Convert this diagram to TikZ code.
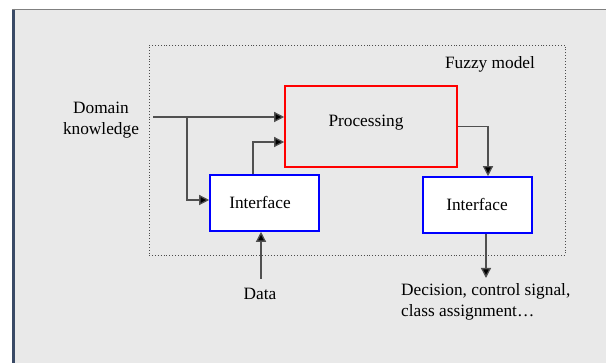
\documentclass[tikz,border=0pt]{standalone}
\usepackage{fontspec}
\setmainfont{Liberation Serif}
\usetikzlibrary{arrows.meta}

\definecolor{panel}{HTML}{E9E9E9}
\definecolor{edgeblue}{HTML}{3A4A66}
\definecolor{flowgray}{HTML}{505050}

\tikzset{
  txt/.style={font=\fontsize{17.3}{21}\selectfont, inner sep=0pt},
  modelbox/.style={draw=black!70, dotted, line width=0.9pt, minimum width=416, minimum height=210},
  procbox/.style={draw=red, fill=panel, line width=1.6pt, minimum width=172, minimum height=81},
  ifbox/.style={draw=blue, fill=white, line width=1.6pt, minimum width=109, minimum height=56},
  flow/.style={draw=flowgray, line width=1.3pt, -{Triangle[length=10pt,width=10pt,fill=black]}}
}

\begin{document}
\begin{tikzpicture}[x=1pt,y=-1pt]
\useasboundingbox (0,0) rectangle (606,363);
% page and panel
\fill[white] (0,0) rectangle (606,363);
\fill[panel] (12,9) rectangle (606,363);
\draw[edgeblue, line width=3pt] (13.5,9) -- (13.5,363);
\draw[gray, line width=1.4pt] (12,9.7) -- (606,9.7);

% fuzzy model frame
\node[modelbox] (model) at (357,150) {};
\node[txt] (modeltitle) at (490,64) {Fuzzy model};

% blocks
\node[procbox] (proc) at (371,126.5) {};
\node[txt] (proctext) at (366,123) {Processing};
\node[ifbox] (ifl) at (264.5,203) {};
\node[txt] (ifltext) at (260,202) {Interface};
\node[ifbox] (ifr) at (477.5,205) {};
\node[txt] (ifrtext) at (477,204) {Interface};

% outside labels
\node[txt, align=center] (dk) at (101,120) {Domain\\knowledge};
\node[txt] (data) at (260,294) {Data};
\node[txt, align=left, anchor=west] (dec) at (401,302) {Decision, control signal,\\class assignment\ldots};

% connectors
\coordinate (dkout) at (153,117);
\coordinate (branch) at (187,117);
\coordinate (datain) at (261,279);
\coordinate (decin) at (486,278);

\draw[flow] (dkout) -- (proc.west |- dkout);
\draw[flow] (branch) |- ([yshift=3pt]ifl.west);
\draw[flow] ([xshift=-11.5pt]ifl.north) |- ([yshift=-15.5pt]proc.west);
\draw[flow] (proc.east) -| ([xshift=10.5pt]ifr.north);
\draw[flow] ([xshift=8.5pt]ifr.south) -- (decin);
\draw[flow] (datain) -- (datain |- ifl.south);
\end{tikzpicture}
\end{document}
